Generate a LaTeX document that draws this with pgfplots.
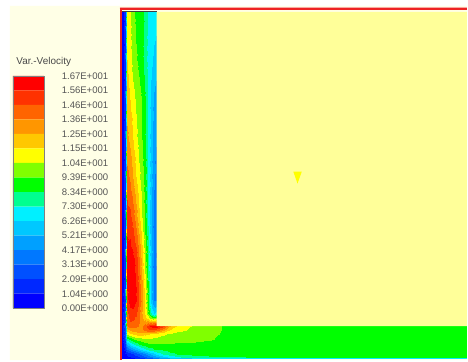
\documentclass[border=0pt]{standalone}
\usepackage{pgfplots}
\pgfplotsset{compat=1.18}
\usepackage{fontspec}
\setmainfont{Liberation Sans}

\definecolor{cream}{HTML}{FFFFE6}
\definecolor{paleyel}{HTML}{FFFF99}
\definecolor{wallred}{HTML}{EE2222}
\definecolor{capgray}{HTML}{404040}
\definecolor{labgray}{HTML}{555555}
% 16 velocity bands, slowest to fastest
\definecolor{v0}{HTML}{0000FF}
\definecolor{v1}{HTML}{0028FF}
\definecolor{v2}{HTML}{0050FF}
\definecolor{v3}{HTML}{0078FF}
\definecolor{v4}{HTML}{00A0FF}
\definecolor{v5}{HTML}{00C8FF}
\definecolor{v6}{HTML}{00F0FF}
\definecolor{v7}{HTML}{00FF90}
\definecolor{v8}{HTML}{00FF00}
\definecolor{v9}{HTML}{80FF00}
\definecolor{v10}{HTML}{FFFF00}
\definecolor{v11}{HTML}{FFC800}
\definecolor{v12}{HTML}{FF9600}
\definecolor{v13}{HTML}{FF6400}
\definecolor{v14}{HTML}{FF3200}
\definecolor{v15}{HTML}{FF0000}

\begin{document}
\begin{tikzpicture}
\begin{axis}[
  view={0}{90},
  scale only axis, width=468bp, height=361bp,
  xmin=0, xmax=468, ymin=0, ymax=361, zmin=-1, zmax=1,
  y dir=reverse, enlargelimits=false, hide axis, clip=false,
  colormap={velo}{color(0)=(v0) color(1)=(v1) color(2)=(v2) color(3)=(v3)
    color(4)=(v4) color(5)=(v5) color(6)=(v6) color(7)=(v7) color(8)=(v8)
    color(9)=(v9) color(10)=(v10) color(11)=(v11) color(12)=(v12)
    color(13)=(v13) color(14)=(v14) color(15)=(v15) color(16)=(v15)},
  colormap access=piecewise constant,
  point meta min=0, point meta max=16.69,
  every node/.style={inner sep=0pt},
]
% page background and panel
\addplot3[fill=white, draw=none] coordinates {(0,0,0) (468,0,0) (468,361,0) (0,361,0) (0,0,0)};
\addplot3[fill=cream, draw=none] coordinates {(10,6,0) (468,6,0) (468,361,0) (10,361,0) (10,6,0)};

% vertical channel (x, y, speed)
\addplot3[surf, shader=interp, mesh/cols=13, point meta=explicit] coordinates {
(122.5,12,0)[0.5] (125.5,12,0)[1.5] (127,12,0)[11.0] (130,12,0)[10.5] (133,12,0)[9.5] (136,12,0)[9.2] (139,12,0)[9.0] (142,12,0)[8.7] (145,12,0)[8.0] (148,12,0)[7.2] (151,12,0)[6.9] (154,12,0)[6.7] (157.5,12,0)[6.5]

(122.5,30,0)[0.5] (125.5,30,0)[1.5] (127,30,0)[11.2] (130,30,0)[10.7] (133,30,0)[9.7] (136,30,0)[9.3] (139,30,0)[9.0] (142,30,0)[8.7] (145,30,0)[7.9] (148,30,0)[7.1] (151,30,0)[6.8] (154,30,0)[6.5] (157.5,30,0)[6.3]

(122.5,60,0)[0.5] (125.5,60,0)[1.5] (127,60,0)[11.5] (130,60,0)[10.9] (133,60,0)[10.0] (136,60,0)[9.5] (139,60,0)[9.1] (142,60,0)[8.7] (145,60,0)[7.8] (148,60,0)[7.0] (151,60,0)[6.5] (154,60,0)[6.0] (157.5,60,0)[5.6]

(122.5,100,0)[0.5] (125.5,100,0)[1.5] (127,100,0)[12.0] (130,100,0)[11.5] (133,100,0)[10.8] (136,100,0)[10.3] (139,100,0)[9.8] (142,100,0)[9.3] (145,100,0)[8.5] (148,100,0)[7.3] (151,100,0)[6.0] (154,100,0)[5.0] (157.5,100,0)[4.4]

(122.5,140,0)[0.5] (125.5,140,0)[1.5] (127,140,0)[12.8] (130,140,0)[12.3] (133,140,0)[11.5] (136,140,0)[10.7] (139,140,0)[10.1] (142,140,0)[9.4] (145,140,0)[8.5] (148,140,0)[7.2] (151,140,0)[5.8] (154,140,0)[4.6] (157.5,140,0)[4.0]

(122.5,180,0)[0.5] (125.5,180,0)[1.5] (127,180,0)[14.0] (130,180,0)[13.5] (133,180,0)[12.6] (136,180,0)[11.6] (139,180,0)[10.7] (142,180,0)[9.9] (145,180,0)[8.9] (148,180,0)[7.3] (151,180,0)[5.7] (154,180,0)[4.3] (157.5,180,0)[3.6]

(122.5,220,0)[0.5] (125.5,220,0)[1.5] (127,220,0)[15.2] (130,220,0)[15.0] (133,220,0)[14.2] (136,220,0)[13.1] (139,220,0)[11.8] (142,220,0)[10.5] (145,220,0)[9.0] (148,220,0)[7.2] (151,220,0)[5.4] (154,220,0)[3.8] (157.5,220,0)[3.0]

(122.5,260,0)[0.5] (125.5,260,0)[1.5] (127,260,0)[16.2] (130,260,0)[16.3] (133,260,0)[16.0] (136,260,0)[15.3] (139,260,0)[13.8] (142,260,0)[12.0] (145,260,0)[10.0] (148,260,0)[7.8] (151,260,0)[5.6] (154,260,0)[3.8] (157.5,260,0)[2.8]

(122.5,300,0)[0.5] (125.5,300,0)[2.0] (127,300,0)[15.5] (130,300,0)[16.2] (133,300,0)[16.3] (136,300,0)[15.8] (139,300,0)[14.6] (142,300,0)[13.0] (145,300,0)[11.2] (148,300,0)[8.8] (151,300,0)[5.6] (154,300,0)[4.0] (157.5,300,0)[3.8]

(122.5,315,0)[0.5] (125.5,315,0)[2.5] (127,315,0)[14.3] (130,315,0)[15.2] (133,315,0)[15.3] (136,315,0)[14.8] (139,315,0)[13.8] (142,315,0)[12.6] (145,315,0)[11.3] (148,315,0)[9.6] (151,315,0)[7.6] (154,315,0)[6.4] (157.5,315,0)[7.0]

(122.5,327,0)[0.5] (125.5,327,0)[3.0] (127,327,0)[13.5] (130,327,0)[14.2] (133,327,0)[14.0] (136,327,0)[13.8] (139,327,0)[13.5] (142,327,0)[13.5] (145,327,0)[14.2] (148,327,0)[15.2] (151,327,0)[15.9] (154,327,0)[16.2] (157.5,327,0)[16.2]
};

% horizontal channel (x, y, speed)
\addplot3[surf, shader=interp, mesh/cols=22, point meta=explicit] coordinates {
(122.5,327,0)[0.5] (125.5,327,0)[3.0] (127,327,0)[13.5] (130,327,0)[14.2] (133,327,0)[14.0] (136,327,0)[13.8] (139,327,0)[13.5] (142,327,0)[13.5] (145,327,0)[14.2] (148,327,0)[15.2] (151,327,0)[15.9] (154,327,0)[16.2] (157.5,327,0)[16.2] (163,327,0)[15.0] (170,327,0)[12.6] (180,327,0)[10.8] (195,327,0)[10.3] (210,327,0)[10.0] (222,327,0)[9.4] (235,327,0)[9.1] (260,327,0)[9.0] (468,327,0)[9.0]

(122.5,331,0)[0.5] (125.5,331,0)[2.8] (127,331,0)[12.0] (130,331,0)[12.6] (133,331,0)[13.0] (136,331,0)[13.1] (139,331,0)[13.2] (142,331,0)[13.4] (145,331,0)[13.8] (148,331,0)[14.3] (151,331,0)[14.6] (154,331,0)[14.5] (157.5,331,0)[14.0] (163,331,0)[12.8] (170,331,0)[11.4] (180,331,0)[10.6] (195,331,0)[10.2] (210,331,0)[9.9] (222,331,0)[9.4] (235,331,0)[9.1] (260,331,0)[9.0] (468,331,0)[9.0]

(122.5,335,0)[0.5] (125.5,335,0)[2.5] (127,335,0)[10.6] (130,335,0)[11.2] (133,335,0)[11.6] (136,335,0)[11.9] (139,335,0)[12.0] (142,335,0)[12.0] (145,335,0)[11.8] (148,335,0)[11.6] (151,335,0)[11.4] (154,335,0)[11.2] (157.5,335,0)[11.0] (163,335,0)[10.6] (170,335,0)[10.3] (180,335,0)[10.15] (195,335,0)[10.05] (210,335,0)[9.8] (222,335,0)[9.3] (235,335,0)[9.05] (260,335,0)[9.0] (468,335,0)[9.0]

(122.5,340,0)[0.5] (125.5,340,0)[2.2] (127,340,0)[8.0] (130,340,0)[8.8] (133,340,0)[9.3] (136,340,0)[9.7] (139,340,0)[9.9] (142,340,0)[10.1] (145,340,0)[10.2] (148,340,0)[10.25] (151,340,0)[10.25] (154,340,0)[10.2] (157.5,340,0)[10.1] (163,340,0)[10.0] (170,340,0)[9.9] (180,340,0)[9.8] (195,340,0)[9.7] (210,340,0)[9.5] (222,340,0)[9.2] (235,340,0)[9.0] (260,340,0)[9.0] (468,340,0)[9.0]

(122.5,345,0)[0.5] (125.5,345,0)[1.8] (127,345,0)[5.5] (130,345,0)[6.5] (133,345,0)[7.3] (136,345,0)[7.9] (139,345,0)[8.4] (142,345,0)[8.8] (145,345,0)[9.0] (148,345,0)[9.2] (151,345,0)[9.3] (154,345,0)[9.3] (157.5,345,0)[9.3] (163,345,0)[9.3] (170,345,0)[9.3] (180,345,0)[9.25] (195,345,0)[9.2] (210,345,0)[9.1] (222,345,0)[9.0] (235,345,0)[9.0] (260,345,0)[9.0] (468,345,0)[9.0]

(122.5,350,0)[0.5] (125.5,350,0)[1.2] (127,350,0)[3.2] (130,350,0)[4.0] (133,350,0)[4.8] (136,350,0)[5.5] (139,350,0)[6.2] (142,350,0)[6.8] (145,350,0)[7.3] (148,350,0)[7.8] (151,350,0)[8.1] (154,350,0)[8.4] (157.5,350,0)[8.6] (163,350,0)[8.8] (170,350,0)[8.9] (180,350,0)[9.0] (195,350,0)[9.0] (210,350,0)[9.0] (222,350,0)[9.0] (235,350,0)[9.0] (260,350,0)[9.0] (468,350,0)[9.0]

(122.5,355,0)[0.5] (125.5,355,0)[0.8] (127,355,0)[1.2] (130,355,0)[1.6] (133,355,0)[2.0] (136,355,0)[2.5] (139,355,0)[3.0] (142,355,0)[3.5] (145,355,0)[4.1] (148,355,0)[4.8] (151,355,0)[5.4] (154,355,0)[6.0] (157.5,355,0)[6.5] (163,355,0)[7.4] (170,355,0)[8.0] (180,355,0)[8.5] (195,355,0)[8.8] (210,355,0)[8.95] (222,355,0)[9.0] (235,355,0)[9.0] (260,355,0)[9.0] (468,355,0)[9.0]

(122.5,357.5,0)[0.3] (125.5,357.5,0)[0.5] (127,357.5,0)[0.8] (130,357.5,0)[1.0] (133,357.5,0)[1.3] (136,357.5,0)[1.6] (139,357.5,0)[2.0] (142,357.5,0)[2.4] (145,357.5,0)[2.9] (148,357.5,0)[3.4] (151,357.5,0)[3.9] (154,357.5,0)[4.4] (157.5,357.5,0)[4.9] (163,357.5,0)[5.8] (170,357.5,0)[6.6] (180,357.5,0)[7.3] (195,357.5,0)[7.8] (210,357.5,0)[8.1] (222,357.5,0)[8.2] (235,357.5,0)[8.3] (260,357.5,0)[8.4] (468,357.5,0)[8.4]

(122.5,359.5,0)[0.2] (125.5,359.5,0)[0.3] (127,359.5,0)[0.4] (130,359.5,0)[0.5] (133,359.5,0)[0.6] (136,359.5,0)[0.8] (139,359.5,0)[1.0] (142,359.5,0)[1.2] (145,359.5,0)[1.5] (148,359.5,0)[1.8] (151,359.5,0)[2.1] (154,359.5,0)[2.5] (157.5,359.5,0)[2.9] (163,359.5,0)[3.4] (170,359.5,0)[4.0] (180,359.5,0)[4.5] (195,359.5,0)[5.0] (210,359.5,0)[5.3] (222,359.5,0)[5.4] (235,359.5,0)[5.5] (260,359.5,0)[5.5] (468,359.5,0)[5.5]
};

% solid block
\addplot3[fill=paleyel, draw=none] coordinates {(157,12,0) (468,12,0) (468,327,0) (157,327,0) (157,12,0)};
% probe marker
\addplot3[fill=v10, draw=none] coordinates {(294,172,0) (302.5,172,0) (298.2,184,0) (294,172,0)};

% walls
\addplot3[draw=wallred!40, line width=1bp] coordinates {(120,7.3,0) (468,7.3,0)};
\addplot3[draw=wallred, line width=2.2bp] coordinates {(120,9.2,0) (468,9.2,0)};
\addplot3[draw=wallred, line width=2.4bp] coordinates {(121.2,8,0) (121.2,361,0)};
\addplot3[draw=capgray, line width=1.6bp] coordinates {(122.3,11.4,0) (157,11.4,0)};

% colour scale
\addplot3[fill=v15, draw=none] coordinates {(13,76,0) (44,76,0) (44,90.56,0) (13,90.56,0) (13,76,0)};
\addplot3[fill=v14, draw=none] coordinates {(13,90.56,0) (44,90.56,0) (44,105.12,0) (13,105.12,0) (13,90.56,0)};
\addplot3[fill=v13, draw=none] coordinates {(13,105.12,0) (44,105.12,0) (44,119.68,0) (13,119.68,0) (13,105.12,0)};
\addplot3[fill=v12, draw=none] coordinates {(13,119.68,0) (44,119.68,0) (44,134.24,0) (13,134.24,0) (13,119.68,0)};
\addplot3[fill=v11, draw=none] coordinates {(13,134.24,0) (44,134.24,0) (44,148.8,0) (13,148.8,0) (13,134.24,0)};
\addplot3[fill=v10, draw=none] coordinates {(13,148.8,0) (44,148.8,0) (44,163.36,0) (13,163.36,0) (13,148.8,0)};
\addplot3[fill=v9, draw=none] coordinates {(13,163.36,0) (44,163.36,0) (44,177.92,0) (13,177.92,0) (13,163.36,0)};
\addplot3[fill=v8, draw=none] coordinates {(13,177.92,0) (44,177.92,0) (44,192.48,0) (13,192.48,0) (13,177.92,0)};
\addplot3[fill=v7, draw=none] coordinates {(13,192.48,0) (44,192.48,0) (44,207.04,0) (13,207.04,0) (13,192.48,0)};
\addplot3[fill=v6, draw=none] coordinates {(13,207.04,0) (44,207.04,0) (44,221.6,0) (13,221.6,0) (13,207.04,0)};
\addplot3[fill=v5, draw=none] coordinates {(13,221.6,0) (44,221.6,0) (44,236.16,0) (13,236.16,0) (13,221.6,0)};
\addplot3[fill=v4, draw=none] coordinates {(13,236.16,0) (44,236.16,0) (44,250.72,0) (13,250.72,0) (13,236.16,0)};
\addplot3[fill=v3, draw=none] coordinates {(13,250.72,0) (44,250.72,0) (44,265.28,0) (13,265.28,0) (13,250.72,0)};
\addplot3[fill=v2, draw=none] coordinates {(13,265.28,0) (44,265.28,0) (44,279.84,0) (13,279.84,0) (13,265.28,0)};
\addplot3[fill=v1, draw=none] coordinates {(13,279.84,0) (44,279.84,0) (44,294.4,0) (13,294.4,0) (13,279.84,0)};
\addplot3[fill=v0, draw=none] coordinates {(13,294.4,0) (44,294.4,0) (44,308.96,0) (13,308.96,0) (13,294.4,0)};
\addplot3[draw=gray, line width=0.6bp] coordinates {(13,76,0) (44,76,0) (44,308.96,0) (13,308.96,0) (13,76,0)};

\node[anchor=west, text=labgray!85!black, font=\fontsize{10}{12}\selectfont] at (axis cs:13,62,0) {Var.-Velocity};
\begin{scope}[every node/.append style={anchor=east, text=labgray, font=\fontsize{9.6}{11}\selectfont}]
\node at (axis cs:112,76,0) {1.67E+001};
\node at (axis cs:112,90.56,0) {1.56E+001};
\node at (axis cs:112,105.12,0) {1.46E+001};
\node at (axis cs:112,119.68,0) {1.36E+001};
\node at (axis cs:112,134.24,0) {1.25E+001};
\node at (axis cs:112,148.8,0) {1.15E+001};
\node at (axis cs:112,163.36,0) {1.04E+001};
\node at (axis cs:112,177.92,0) {9.39E+000};
\node at (axis cs:112,192.48,0) {8.34E+000};
\node at (axis cs:112,207.04,0) {7.30E+000};
\node at (axis cs:112,221.6,0) {6.26E+000};
\node at (axis cs:112,236.16,0) {5.21E+000};
\node at (axis cs:112,250.72,0) {4.17E+000};
\node at (axis cs:112,265.28,0) {3.13E+000};
\node at (axis cs:112,279.84,0) {2.09E+000};
\node at (axis cs:112,294.4,0) {1.04E+000};
\node at (axis cs:112,308.96,0) {0.00E+000};
\end{scope}
\end{axis}
\end{tikzpicture}
\end{document}
